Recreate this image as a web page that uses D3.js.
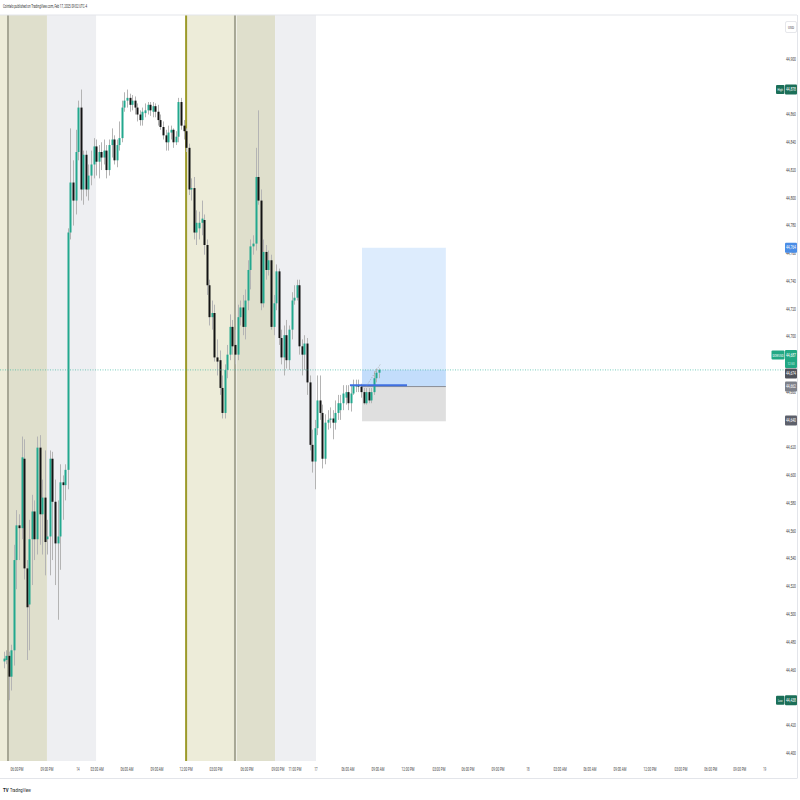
<!DOCTYPE html>
<html><head><meta charset="utf-8">
<script src="https://cdn.jsdelivr.net/npm/d3@7"></script>
<style>
html,body{margin:0;padding:0;background:#fff;}
svg{display:block;}
text{font-family:"Liberation Sans Narrow","Roboto","DejaVu Sans Condensed",sans-serif;}
</style></head>
<body>
<script>
// ---------------- DATA ----------------
const opens = [44466,44467,44470,44455,44474,44539,44564,44562,44612,44533,
44507,44554,44574,44554,44620,44572,44584,44554,44556,44612,
44581,44551,44556,44595,44593,44604,44775,44811,44798,44833,
44865,44806,44831,44806,44816,44824,44837,44826,44833,44829,
44834,44820,44838,44842,44827,44838,44843,44865,44870,44872,
44867,44870,44865,44860,44856,44861,44863,44867,44862,44866,
44862,44856,44851,44845,44840,44847,44849,44840,44844,44869,
44852,44848,44836,44806,44807,44775,44778,44782,44784,44766,
44737,44714,44717,44685,44683,44663,44645,44676,44687,44707,
44694,44687,44714,44721,44707,44726,44748,44765,44767,44815,
44798,44724,44761,44748,44755,44707,44724,44747,44699,44685,
44701,44683,44705,44726,44728,44737,44693,44687,44695,44667,
44622,44610,44634,44654,44645,44612,44638,44640,44641,44638,
44645,44647,44652,44656,44660,44652,44659,44664,44665,44664,
44660,44652,44660,44654,44660,44670,44674];
const closes = [44468,44470,44455,44474,44539,44564,44562,44613,44533,44505,
44554,44574,44554,44620,44572,44584,44552,44556,44612,44581,
44551,44556,44595,44593,44604,44775,44811,44798,44833,44865,
44806,44831,44806,44816,44824,44837,44826,44833,44829,44834,
44820,44838,44842,44827,44838,44843,44865,44870,44872,44867,
44870,44865,44860,44856,44862,44863,44867,44863,44866,44862,
44856,44851,44845,44840,44847,44849,44840,44844,44869,44852,
44848,44836,44806,44807,44775,44782,44782,44785,44766,44737,
44714,44717,44685,44682,44663,44645,44676,44687,44707,44693,
44687,44714,44721,44707,44726,44748,44765,44767,44815,44798,
44724,44761,44748,44755,44707,44724,44747,44699,44685,44701,
44683,44705,44726,44728,44737,44693,44687,44695,44667,44622,
44610,44634,44654,44645,44612,44638,44640,44641,44638,44645,
44652,44652,44659,44660,44652,44659,44665,44665,44664,44660,
44652,44660,44654,44660,44670,44674,44676];
const highs = [44473,44474,44473,44478,44550,44575,44572,44628,44626,44539,
44568,44586,44582,44628,44629,44597,44618,44568,44618,44617,
44597,44582,44608,44600,44608,44778,44850,44827,44849,44870,
44878,44834,44834,44824,44834,44843,44842,44838,44840,44842,
44838,44842,44850,44845,44842,44855,44870,44876,44878,44875,
44874,44873,44868,44863,44865,44868,44869,44869,44869,44868,
44867,44860,44855,44849,44852,44852,44850,44848,44872,44872,
44856,44850,44839,44814,44815,44791,44790,44798,44788,44770,
44741,44726,44723,44698,44690,44672,44680,44694,44716,44712,
44705,44723,44726,44730,44734,44755,44770,44773,44836,44863,
44806,44770,44766,44762,44759,44730,44752,44749,44705,44708,
44712,44708,44732,44737,44741,44741,44698,44701,44699,44672,
44633,44640,44672,44672,44651,44644,44647,44649,44647,44654,
44658,44658,44665,44665,44665,44665,44669,44669,44669,44666,
44663,44663,44663,44663,44675,44677,44677];
const lows = [44461,44464,44438,44445,44463,44518,44539,44554,44525,44467,
44474,44521,44539,44543,44550,44543,44528,44543,44528,44539,
44521,44496,44532,44568,44582,44590,44770,44780,44788,44827,
44798,44795,44801,44798,44809,44814,44816,44814,44820,44824,
44814,44816,44829,44824,44822,44834,44840,44862,44865,44862,
44863,44860,44855,44852,44852,44858,44860,44859,44858,44858,
44852,44849,44842,44834,44834,44842,44836,44838,44840,44849,
44842,44833,44802,44798,44770,44766,44770,44773,44759,44730,
44708,44705,44682,44672,44658,44641,44641,44670,44683,44687,
44680,44683,44708,44701,44698,44719,44734,44759,44762,44795,
44719,44721,44741,44744,44705,44701,44719,44694,44680,44672,
44677,44676,44698,44723,44726,44687,44672,44676,44658,44618,
44602,44590,44629,44640,44605,44608,44633,44634,44626,44633,
44640,44640,44647,44651,44647,44646,44658,44660,44660,44656,
44651,44651,44652,44652,44658,44667,44670];

// price scale labels that are visible (others are hidden under price tags in the reference)
const priceTicks = [44400,44420,44460,44480,44500,44520,44540,44560,44580,
44600,44620,44660,44700,44720,44740,44760,44780,44800,44820,44840,44860,44900];

// time labels positioned by bar index (15-min bars)
const timeLabels = ["06:00 PM","09:00 PM","14","03:00 AM","06:00 AM","09:00 AM","12:00 PM","03:00 PM","06:00 PM","09:00 PM","11:00 PM","17","06:00 AM","09:00 AM",
"12:00 PM","03:00 PM","06:00 PM","09:00 PM","18","03:00 AM","06:00 AM","09:00 AM","12:00 PM","03:00 PM","06:00 PM","09:00 PM","19"];
const timeIdx = [5.25,16.9,29,36.4,48,59.7,71,82.6,94.7,106.7,113.3,121.5,133.9,145.6,
157.3,169.3,180.6,192.3,203.9,216.4,228,239.7,251.4,263.4,275,286.3,296];

// session background bands [startIdx, endIdx, kind]
const bandStart = [-1.4, 2.1, 16.9, 71.0, 90.6, 105.6];
const bandEnd   = [1.75, 16.9, 36.0, 90.0, 105.6, 121.5];
const bandKind  = ["light","dark","grey","light","dark","grey"];
const sessionLineIdx = [1.75, 71.0, 90.0];
const sessionLineKind = ["grey","olive","grey"];

// long position tool
const posStartIdx = 139.4, posEndIdx = 172.0;
const posTarget = 44764, posEntry = 44664, posStop = 44639;
const lastPrice = 44676;
const orderLineIdx = [134.7, 156.9];
const orderLinePrice = 44665;

// right-axis labels
const highPrice = 44878, lowPrice = 44438;
const symbolName = "DOWUSD", symbolPrice = 44687, countdown = "12:50";
const extraLabels = [44674, 44662, 44640];

// ---------------- LAYOUT ----------------
const W = 800, H = 800;
const plotTop = 15, plotBottom = 761, plotRight = 797;
const x = d3.scaleLinear().domain([0, 146]).range([3.5, 379]);
const y = d3.scaleLinear().domain([44400, 44900]).range([753, 59]);
const fmt = d3.format(",");

const svg = d3.select("body").append("svg").attr("width", W).attr("height", H);
svg.append("rect").attr("width", W).attr("height", H).attr("fill", "#ffffff");

// text squeezed horizontally to a target width (real glyphs, scaled by transform)
function fitText(parent, s, x0, y0, len, size, fill, weight){
  const t = parent.append("text").attr("x",0).attr("y",0)
    .attr("font-size", size).attr("fill", fill).text(s);
  if (weight) t.attr("font-weight", weight);
  const nat = t.node().getComputedTextLength() || len;
  const sx = Math.min(1, len / nat);
  t.attr("transform", `translate(${x0},${y0}) scale(${sx},1)`);
  return t;
}

// header
fitText(svg, "Cointelo published on TradingView.com, Feb 17, 2025 09:02 UTC-4", 3, 8.3, 84, 4.6, "#333");

// session bands
const bandColor = {light:"#edecd9", dark:"#dfdfcc", grey:"#eeeff2"};
svg.append("clipPath").attr("id","plotclip").append("rect")
  .attr("x",0).attr("y",plotTop).attr("width",plotRight).attr("height",plotBottom-plotTop);
const g = svg.append("g").attr("clip-path","url(#plotclip)");
g.selectAll("rect.band").data(bandStart.map((s,i)=>({s, e:bandEnd[i], k:bandKind[i]})))
  .join("rect").attr("class","band")
  .attr("x", d=>x(d.s)).attr("width", d=>x(d.e)-x(d.s))
  .attr("y", plotTop).attr("height", plotBottom-plotTop)
  .attr("fill", d=>bandColor[d.k]);
const lineColor = {grey:"#a7a795", olive:"#9c9a2a"};
g.selectAll("rect.sline").data(sessionLineIdx.map((s,i)=>({s,k:sessionLineKind[i]})))
  .join("rect").attr("class","sline")
  .attr("x", d=>x(d.s)-1).attr("width", 2)
  .attr("y", plotTop).attr("height", plotBottom-plotTop)
  .attr("fill", d=>lineColor[d.k]);

// position tool (under candles)
const px0 = x(posStartIdx), px1 = x(posEndIdx);
g.append("rect").attr("x",px0).attr("width",px1-px0).attr("y",y(posTarget)).attr("height",y(posEntry)-y(posTarget))
  .attr("fill","rgba(41,135,240,0.16)");
g.append("rect").attr("x",px0).attr("width",px1-px0).attr("y",y(lastPrice)).attr("height",y(posEntry)-y(lastPrice))
  .attr("fill","rgba(41,135,240,0.14)");
g.append("rect").attr("x",px0).attr("width",px1-px0).attr("y",y(posEntry)).attr("height",y(posStop)-y(posEntry))
  .attr("fill","rgba(150,150,150,0.3)");
g.append("line").attr("x1",px0).attr("x2",px1).attr("y1",y(posEntry)).attr("y2",y(posEntry))
  .attr("stroke","#8a8d96").attr("stroke-width",1);

// candles
const bars = d3.range(opens.length).map(i=>({i,o:opens[i],h:highs[i],l:lows[i],c:closes[i]}));
g.selectAll("line.wick").data(bars).join("line").attr("class","wick")
  .attr("x1", d=>Math.round(x(d.i))+0.5).attr("x2", d=>Math.round(x(d.i))+0.5)
  .attr("y1", d=>y(d.h)).attr("y2", d=>y(d.l))
  .attr("stroke","#b4b4b4").attr("stroke-width",1);
g.selectAll("rect.body").data(bars).join("rect").attr("class","body")
  .attr("x", d=>Math.round(x(d.i))-0.5).attr("width", 2)
  .attr("y", d=>Math.min(y(d.o),y(d.c)))
  .attr("height", d=>Math.max(1, Math.abs(y(d.o)-y(d.c))))
  .attr("fill", d=> d.c>=d.o ? "#22a88e" : "#131313");

// order line and projection
g.append("line").attr("x1",x(orderLineIdx[0])).attr("x2",x(orderLineIdx[1]))
  .attr("y1",y(orderLinePrice)).attr("y2",y(orderLinePrice))
  .attr("stroke","#3f6fe0").attr("stroke-width",2);
g.append("line").attr("x1",x(141)).attr("x2",x(146.5))
  .attr("y1",y(posEntry)).attr("y2",y(44680))
  .attr("stroke","#9a9a9a").attr("stroke-width",0.8).attr("stroke-dasharray","1,1.5");

// last price dotted line
svg.append("line").attr("x1",0).attr("x2",785).attr("y1",y(lastPrice)).attr("y2",y(lastPrice))
  .attr("stroke","#3cb8a0").attr("stroke-width",0.7).attr("stroke-dasharray","1,1.5");

// frame lines
svg.append("line").attr("x1",0).attr("x2",plotRight).attr("y1",plotTop).attr("y2",plotTop).attr("stroke","#e3e5ea").attr("stroke-width",1);
svg.append("line").attr("x1",0).attr("x2",plotRight).attr("y1",778.5).attr("y2",778.5).attr("stroke","#e3e5ea").attr("stroke-width",1);
svg.append("line").attr("x1",plotRight+0.5).attr("x2",plotRight+0.5).attr("y1",plotTop).attr("y2",778.5).attr("stroke","#e3e5ea").attr("stroke-width",1);

// price axis ticks
const axisG = svg.append("g");
priceTicks.forEach(p => fitText(axisG, fmt(p), 786, y(p)+1.8, 10, 4.6, "#444"));

// USD box
axisG.append("rect").attr("x",785.5).attr("y",21.5).attr("width",11).attr("height",11).attr("rx",1.5)
  .attr("fill","#fff").attr("stroke","#e6e7eb");
fitText(axisG, "USD", 788, 28.6, 6, 4.4, "#444");

function label(yy, bg, s, h){
  axisG.append("rect").attr("x",785).attr("y",yy-h/2).attr("width",12).attr("height",h).attr("rx",1).attr("fill",bg);
  fitText(axisG, s, 786, yy+1.7, 10, 4.6, "#fff");
}
function tag(xr, yy, w, bg, s, len){
  axisG.append("rect").attr("x",xr-w).attr("y",yy-4.5).attr("width",w).attr("height",9).attr("rx",1).attr("fill",bg);
  fitText(axisG, s, xr-w/2-len/2, yy+1.7, len, 4.4, "#fff");
}
// High / Low
tag(784.5, y(highPrice), 8.5, "#1b6f58", "High", 5.5);
label(y(highPrice), "#1b6f58", fmt(highPrice), 10);
tag(784.5, y(lowPrice), 8.5, "#1b6f58", "Low", 4.5);
label(y(lowPrice), "#1b6f58", fmt(lowPrice), 10);
// target
label(y(posTarget), "#4a8de6", fmt(posTarget), 10);
// symbol price with countdown
const sy = 355;
axisG.append("rect").attr("x",771.5).attr("y",sy-4.5).attr("width",13).attr("height",9).attr("rx",1).attr("fill","#22a884");
fitText(axisG, symbolName, 772.5, sy+1.7, 11, 4.4, "#fff");
axisG.append("rect").attr("x",785).attr("y",sy-5).attr("width",12).attr("height",18).attr("rx",1).attr("fill","#22a884");
fitText(axisG, fmt(symbolPrice), 786, sy+1.7, 10, 4.6, "#fff");
fitText(axisG, countdown, 787.5, sy+9.5, 7, 4.2, "#d8f3ec");
// other labels
label(373.5, "#50535c", fmt(extraLabels[0]), 10);
label(386.5, "#7d808a", fmt(extraLabels[1]), 10);
label(y(extraLabels[2])+0.5, "#5d606b", fmt(extraLabels[2]), 10);

// time axis
timeLabels.forEach((t,i) => {
  const w = t.length > 2 ? 13 : 3;
  fitText(svg, t, x(timeIdx[i]) - w/2, 770.5, w, 4.6, "#444");
});

// logo
fitText(svg, "TV", 3, 792, 5.5, 5, "#131722", "bold");
fitText(svg, "TradingView", 10, 792, 21, 4.6, "#131722");
</script>
</body></html>
